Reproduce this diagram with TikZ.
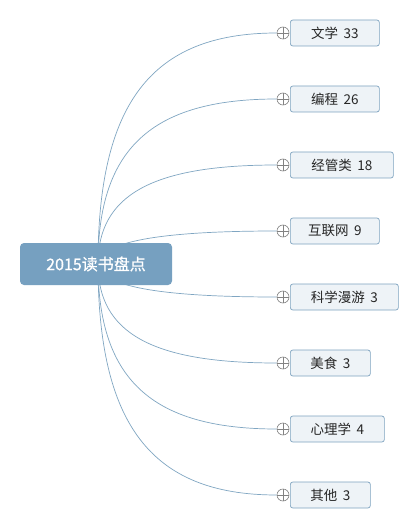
\documentclass[tikz,border=0pt]{standalone}
\usepackage{fontspec}
\setmainfont{Noto Sans CJK SC}
\newfontfamily\rootfont[FakeBold=0.8]{Noto Sans CJK SC}
\definecolor{rootfill}{RGB}{118,160,192}
\definecolor{linec}{RGB}{128,166,194}
\definecolor{boxfill}{RGB}{238,243,247}
\definecolor{boxdraw}{RGB}{126,163,191}
\definecolor{circc}{RGB}{130,130,130}
\newcommand{\gapsp}{\hspace{0.4em}}
\begin{document}
\begin{tikzpicture}[x=1pt,y=-1pt,
  rootbox/.style={rectangle,rounded corners=4pt,fill=rootfill,text=white,
    minimum width=152pt,minimum height=42pt,inner sep=0pt,
    font=\rootfont\fontsize{16}{18}\selectfont},
  leaf/.style={rectangle,rounded corners=2.5pt,fill=boxfill,draw=boxdraw,line width=0.7pt,
    minimum height=26pt,inner sep=0pt,anchor=west,text=black!85,
    font=\fontsize{13.5}{15}\selectfont},
  plusc/.style={circle,draw=circc,fill=white,minimum size=12pt,inner sep=0pt,line width=0.6pt,
    path picture={
      \draw[circc,line width=0.6pt] ([xshift=-6pt]path picture bounding box.center) -- ([xshift=6pt]path picture bounding box.center);
      \draw[circc,line width=0.6pt] ([yshift=-6pt]path picture bounding box.center) -- ([yshift=6pt]path picture bounding box.center);}},
  conn/.style={draw=linec,line width=0.7pt}]
\useasboundingbox[fill=white] (0,0) rectangle (419,529);
\coordinate (o) at (98,264);
\node[plusc] (p1) at (283,33) {};
\node[plusc] (p2) at (283,99) {};
\node[plusc] (p3) at (283,165) {};
\node[plusc] (p4) at (283,231) {};
\node[plusc] (p5) at (283,297) {};
\node[plusc] (p6) at (283,363) {};
\node[plusc] (p7) at (283,429) {};
\node[plusc] (p8) at (283,495) {};
\draw[conn] (o) .. controls (98,105) and (150,33) .. (p1.west);
\draw[conn] (o) .. controls (98,150) and (150,99) .. (p2.west);
\draw[conn] (o) .. controls (98,195) and (152,165) .. (p3.west);
\draw[conn] (o) .. controls (100,242) and (158,231) .. (p4.west);
\draw[conn] (o) .. controls (100,286) and (158,297) .. (p5.west);
\draw[conn] (o) .. controls (98,333) and (152,363) .. (p6.west);
\draw[conn] (o) .. controls (98,378) and (150,429) .. (p7.west);
\draw[conn] (o) .. controls (98,423) and (150,495) .. (p8.west);
\node[rootbox] (root) at (96,264) {2015读书盘点};
\node[leaf,minimum width=89pt] (c1) at (290,33) {文学\gapsp 33};
\node[leaf,minimum width=89pt] (c2) at (290,99) {编程\gapsp 26};
\node[leaf,minimum width=103pt] (c3) at (290,165) {经管类\gapsp 18};
\node[leaf,minimum width=89pt] (c4) at (290,231) {互联网\gapsp 9};
\node[leaf,minimum width=108pt] (c5) at (290,297) {科学漫游\gapsp 3};
\node[leaf,minimum width=80pt] (c6) at (290,363) {美食\gapsp 3};
\node[leaf,minimum width=94pt] (c7) at (290,429) {心理学\gapsp 4};
\node[leaf,minimum width=80pt] (c8) at (290,495) {其他\gapsp 3};
\end{tikzpicture}
\end{document}
